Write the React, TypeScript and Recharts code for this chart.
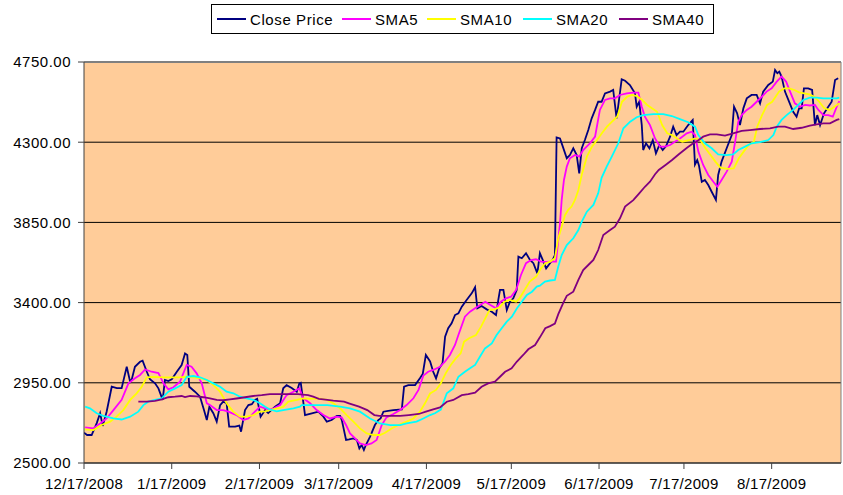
import React from 'react'
import {
  LineChart, Line, XAxis, YAxis, CartesianGrid, ReferenceLine,
} from 'recharts'

// x = days after 12/17/2008, y = index level
const CLOSE: [number, number][] = [
  [0, 2670], [1.1, 2657], [2.7, 2657], [4.5, 2724], [5.7, 2780], [6.6, 2708], [8.0, 2788], [9.8, 2928],
  [11.6, 2920], [13.3, 2920], [15.1, 3040], [16.3, 2956], [16.9, 2970], [18.0, 3040], [19.8, 3068], [20.7, 3074],
  [22.2, 3012], [23.3, 2970], [25.1, 2947], [26.3, 2919], [27.8, 2854], [28.6, 2966], [29.8, 2960], [31.0, 2970],
  [32.8, 3012], [34.5, 3050], [35.7, 3115], [36.5, 3106], [37.2, 2928], [39.2, 2900], [41.0, 2872], [42.4, 2797],
  [43.4, 2741], [44.3, 2816], [45.7, 2779], [46.9, 2732], [48.1, 2825], [49.2, 2844], [50.4, 2835], [51.3, 2704],
  [53.4, 2704], [54.9, 2710], [55.5, 2676], [56.9, 2797], [58.1, 2825], [59.3, 2830], [60.4, 2854], [61.2, 2860],
  [62.4, 2760], [64.0, 2797], [65.1, 2780], [67.5, 2816], [69.3, 2835], [70.4, 2919], [71.6, 2937], [73.4, 2921],
  [75.2, 2900], [76.1, 2947], [76.6, 2950], [78.1, 2769], [80.5, 2779], [82.8, 2788], [84.6, 2760], [85.8, 2732],
  [87.5, 2741], [89.3, 2764], [90.5, 2764], [91.1, 2741], [91.6, 2704], [92.6, 2629], [93.7, 2632], [95.2, 2638],
  [96.4, 2630], [97.3, 2582], [98.1, 2601], [98.9, 2573], [99.6, 2601], [101.1, 2648], [102.8, 2713], [104.0, 2741],
  [104.8, 2750], [105.8, 2788], [107.5, 2793], [109.3, 2797], [112.3, 2801], [113.1, 2928], [114.6, 2937], [117.0, 2937],
  [118.7, 2975], [119.7, 3000], [120.8, 3106], [122.3, 3070], [123.4, 3012], [124.4, 2975], [125.5, 3030], [126.7, 3060],
  [127.6, 3209], [128.7, 3256], [129.9, 3284], [131.1, 3330], [132.3, 3340], [133.5, 3377], [135.2, 3415], [137.0, 3452],
  [138.2, 3486], [139.0, 3368], [140.5, 3381], [142.3, 3362], [144.1, 3349], [145.6, 3330], [146.4, 3415], [147.0, 3471],
  [148.2, 3471], [149.4, 3358], [150.5, 3405], [151.7, 3424], [152.9, 3471], [153.5, 3658], [154.7, 3649], [156.2, 3677],
  [157.6, 3639], [158.8, 3621], [160.2, 3564], [161.1, 3677], [162.1, 3640], [163.3, 3592], [164.4, 3615], [165.6, 3640],
  [166.4, 3667], [167.0, 4327], [168.2, 4321], [169.2, 4275], [170.6, 4210], [171.7, 4228], [172.9, 4266], [174.1, 4228],
  [175.0, 4125], [175.9, 4266], [177.0, 4312], [178.2, 4368], [179.4, 4434], [180.6, 4481], [181.7, 4527], [182.9, 4527],
  [184.1, 4574], [185.9, 4584], [187.0, 4593], [188.2, 4434], [189.2, 4555], [190.0, 4653], [191.2, 4645], [192.9, 4621],
  [194.7, 4574], [195.3, 4499], [196.2, 4527], [197.1, 4396], [197.6, 4256], [198.6, 4294], [199.8, 4266], [201.0, 4312],
  [202.1, 4238], [203.3, 4284], [204.5, 4256], [205.7, 4278], [207.1, 4331], [208.2, 4387], [209.4, 4340], [210.6, 4359],
  [211.8, 4359], [213.5, 4396], [215.1, 4425], [215.9, 4175], [216.7, 4200], [217.3, 4170], [218.3, 4078], [219.4, 4088],
  [220.6, 4060], [221.8, 4022], [223.3, 3976], [224.1, 4116], [225.3, 4191], [227.1, 4266], [228.9, 4340], [229.7, 4499],
  [230.8, 4462], [231.8, 4396], [233.0, 4490], [234.2, 4546], [235.9, 4565], [237.7, 4565], [238.9, 4518], [240.0, 4584],
  [241.8, 4621], [243.4, 4640], [244.2, 4705], [245.0, 4687], [245.7, 4696], [246.5, 4668], [247.7, 4584], [248.9, 4537],
  [250.6, 4471], [251.8, 4443], [252.7, 4490], [253.6, 4490], [254.4, 4602], [255.9, 4602], [257.3, 4593], [258.3, 4396],
  [259.1, 4452], [260.1, 4396], [261.5, 4462], [263.0, 4499], [264.2, 4527], [265.4, 4649], [266.5, 4659],
]

const SMA5: [number, number][] = [
  [0.4, 2700], [3.2, 2694], [5.7, 2722], [8.0, 2750], [10.4, 2797], [13.3, 2854], [15.7, 2947], [18.0, 2975],
  [19.8, 2994], [21.6, 3025], [23.9, 3012], [26.3, 3005], [28.1, 2947], [29.8, 2913], [31.6, 2925], [33.9, 2956],
  [36.3, 3050], [38.0, 3040], [39.8, 3003], [41.6, 2947], [43.4, 2835], [44.5, 2825], [46.9, 2797], [49.2, 2797],
  [51.0, 2788], [53.9, 2769], [56.3, 2741], [58.1, 2750], [60.4, 2788], [62.2, 2816], [64.0, 2807], [65.7, 2800],
  [67.1, 2807], [69.3, 2825], [71.6, 2881], [74.0, 2900], [76.1, 2919], [77.5, 2863], [79.9, 2835], [82.2, 2797],
  [84.6, 2769], [86.9, 2750], [89.3, 2760], [91.1, 2755], [92.6, 2713], [94.0, 2666], [95.8, 2638], [97.5, 2610],
  [99.6, 2601], [101.6, 2610], [103.4, 2629], [105.2, 2713], [106.9, 2756], [109.3, 2775], [111.7, 2797], [114.0, 2825],
  [116.4, 2863], [118.2, 2910], [119.9, 2990], [121.6, 3012], [123.4, 3022], [125.8, 3040], [127.5, 3068], [129.3, 3106],
  [131.1, 3162], [132.3, 3218], [134.6, 3321], [136.4, 3349], [138.2, 3368], [140.0, 3387], [141.8, 3405], [143.6, 3387],
  [145.6, 3368], [147.3, 3405], [149.1, 3424], [150.9, 3433], [152.7, 3471], [154.4, 3555], [156.2, 3621], [158.0, 3639],
  [159.7, 3643], [161.5, 3630], [163.3, 3628], [165.0, 3630], [166.8, 3630], [168.2, 3845], [168.8, 3976], [169.6, 4088],
  [170.6, 4163], [171.7, 4210], [173.5, 4228], [175.0, 4219], [176.4, 4256], [178.8, 4294], [180.6, 4331], [182.3, 4481],
  [184.1, 4537], [185.9, 4546], [187.6, 4546], [189.4, 4565], [191.8, 4574], [194.1, 4578], [195.9, 4578], [197.1, 4499],
  [198.2, 4443], [200.0, 4396], [201.8, 4321], [203.5, 4275], [205.3, 4275], [207.1, 4284], [208.8, 4303], [210.6, 4321],
  [213.0, 4350], [214.7, 4359], [215.9, 4340], [217.1, 4247], [218.8, 4172], [220.6, 4116], [222.4, 4078], [223.8, 4050],
  [225.3, 4088], [227.1, 4135], [228.9, 4191], [230.1, 4303], [231.2, 4415], [232.4, 4452], [234.2, 4481], [235.9, 4499],
  [237.7, 4527], [239.5, 4555], [241.2, 4584], [243.0, 4602], [244.8, 4640], [246.5, 4668], [248.1, 4640], [249.5, 4584],
  [251.2, 4518], [253.0, 4499], [254.8, 4509], [256.5, 4506], [258.3, 4509], [259.5, 4481], [261.3, 4452], [263.0, 4452],
  [264.6, 4443], [266.0, 4499], [266.9, 4530],
]

const SMA10: [number, number][] = [
  [0.4, 2689], [3.3, 2685], [6.2, 2713], [9.2, 2732], [11.5, 2760], [13.9, 2797], [16.3, 2854], [18.6, 2891],
  [20.4, 2928], [22.2, 2981], [24.5, 2983], [28.1, 2981], [31.5, 2981], [33.9, 2981], [36.3, 2984], [38.6, 2981],
  [41.0, 2975], [43.4, 2966], [45.7, 2937], [48.1, 2900], [50.4, 2835], [52.7, 2788], [55.1, 2760], [57.5, 2760],
  [59.8, 2769], [62.2, 2788], [64.0, 2790], [68.1, 2807], [70.4, 2815], [72.2, 2844], [75.2, 2854], [77.5, 2863],
  [79.9, 2860], [82.8, 2863], [85.8, 2854], [88.1, 2835], [90.5, 2807], [92.8, 2769], [95.2, 2732], [97.5, 2694],
  [99.9, 2666], [102.2, 2657], [104.6, 2657], [106.4, 2670], [108.7, 2694], [111.1, 2713], [114.0, 2732], [116.4, 2750],
  [118.7, 2788], [120.5, 2835], [122.3, 2890], [124.4, 2910], [126.1, 2947], [127.8, 3003], [129.6, 3050], [131.4, 3087],
  [133.1, 3115], [134.3, 3181], [136.1, 3200], [138.5, 3218], [140.3, 3265], [142.1, 3321], [143.3, 3358], [145.0, 3362],
  [146.8, 3373], [148.6, 3405], [150.4, 3415], [152.7, 3405], [153.9, 3424], [155.7, 3471], [157.5, 3518], [159.8, 3546],
  [161.1, 3583], [163.0, 3621], [164.7, 3630], [166.4, 3649], [167.6, 3761], [168.8, 3826], [170.0, 3892], [171.1, 3920],
  [172.3, 3939], [173.5, 3976], [174.7, 4032], [176.0, 4125], [177.7, 4219], [179.5, 4275], [181.3, 4312], [183.0, 4350],
  [184.8, 4387], [186.6, 4415], [188.4, 4443], [189.2, 4481], [190.1, 4527], [191.9, 4555], [193.6, 4565], [195.4, 4559],
  [197.2, 4537], [199.0, 4509], [200.7, 4490], [202.5, 4471], [204.3, 4396], [206.1, 4350], [207.8, 4340], [209.6, 4321],
  [211.4, 4303], [213.8, 4312], [216.1, 4321], [217.8, 4312], [219.6, 4266], [221.4, 4228], [223.1, 4191], [224.9, 4157],
  [227.3, 4150], [229.6, 4153], [231.4, 4210], [233.1, 4247], [234.9, 4284], [236.7, 4303], [237.9, 4387], [239.6, 4452],
  [241.4, 4509], [243.2, 4527], [245.6, 4584], [247.4, 4602], [249.2, 4602], [251.0, 4593], [252.7, 4580], [254.5, 4574],
  [256.3, 4568], [258.1, 4555], [259.8, 4527], [261.6, 4490], [263.4, 4481], [265.2, 4499], [266.9, 4518],
]

const SMA20: [number, number][] = [
  [0.4, 2816], [2.1, 2807], [4.5, 2779], [6.8, 2764], [10.4, 2750], [13.3, 2744], [16.3, 2760], [19.2, 2788],
  [21.0, 2825], [22.7, 2844], [25.1, 2854], [27.5, 2863], [29.8, 2900], [32.2, 2919], [34.5, 2937], [36.3, 2984],
  [38.6, 2988], [41.0, 2981], [43.4, 2966], [45.7, 2947], [48.1, 2928], [50.4, 2900], [52.8, 2891], [55.1, 2872],
  [57.5, 2863], [59.8, 2854], [62.2, 2835], [64.0, 2816], [65.7, 2800], [68.1, 2790], [70.4, 2797], [74.0, 2807],
  [76.3, 2816], [76.9, 2825], [80.1, 2825], [86.0, 2825], [90.5, 2816], [94.0, 2807], [97.5, 2788], [101.1, 2750],
  [104.6, 2722], [108.2, 2713], [111.7, 2713], [114.0, 2722], [117.5, 2732], [119.9, 2750], [122.3, 2769], [124.0, 2779],
  [126.1, 2800], [128.2, 2891], [130.5, 2919], [132.3, 2984], [134.6, 3012], [136.4, 3031], [138.2, 3050], [139.9, 3096],
  [141.7, 3143], [144.1, 3171], [145.8, 3218], [147.6, 3256], [149.4, 3293], [151.2, 3321], [153.0, 3368], [154.7, 3405],
  [156.5, 3443], [158.3, 3461], [160.0, 3490], [161.1, 3495], [162.9, 3518], [164.7, 3524], [166.4, 3527], [167.6, 3602],
  [168.8, 3667], [170.6, 3723], [172.9, 3761], [174.7, 3807], [175.9, 3854], [177.7, 3910], [180.0, 3948], [181.7, 4013],
  [182.9, 4100], [184.7, 4163], [186.5, 4219], [188.8, 4294], [190.6, 4378], [193.0, 4415], [195.3, 4440], [197.6, 4452],
  [201.2, 4458], [204.7, 4458], [207.7, 4447], [210.6, 4430], [213.5, 4412], [215.9, 4387], [217.1, 4340], [219.4, 4294],
  [221.8, 4266], [224.1, 4232], [227.1, 4228], [229.4, 4232], [231.2, 4256], [233.6, 4275], [235.9, 4294], [238.9, 4300],
  [241.8, 4312], [243.6, 4340], [244.8, 4387], [246.5, 4425], [248.3, 4452], [250.6, 4481], [252.4, 4509], [254.2, 4537],
  [256.5, 4550], [258.9, 4550], [261.2, 4546], [263.6, 4546], [266.0, 4546], [266.9, 4550],
]

const SMA40: [number, number][] = [
  [19.2, 2844], [22.2, 2844], [25.1, 2848], [27.5, 2857], [29.8, 2869], [32.2, 2872], [34.5, 2876], [35.7, 2870],
  [37.5, 2876], [39.8, 2874], [42.2, 2869], [44.5, 2863], [46.9, 2854], [49.2, 2852], [51.6, 2857], [53.9, 2862],
  [56.9, 2869], [59.8, 2876], [62.8, 2881], [65.7, 2887], [70.4, 2887], [75.6, 2887], [79.2, 2881], [81.0, 2872],
  [83.0, 2860], [84.6, 2857], [88.1, 2850], [91.9, 2844], [93.6, 2835], [97.2, 2816], [100.1, 2797], [102.6, 2769],
  [104.3, 2764], [108.2, 2764], [111.7, 2764], [114.8, 2769], [118.3, 2775], [120.8, 2788], [123.4, 2801], [125.8, 2812],
  [128.2, 2844], [130.5, 2854], [133.5, 2881], [135.8, 2887], [138.2, 2895], [140.5, 2928], [142.8, 2947], [145.2, 2956],
  [147.0, 2984], [148.8, 3012], [151.1, 3031], [152.9, 3068], [155.2, 3106], [157.0, 3138], [159.4, 3162], [161.1, 3205],
  [163.0, 3256], [164.7, 3268], [166.4, 3282], [167.6, 3335], [169.4, 3400], [170.6, 3438], [172.9, 3461], [174.7, 3527],
  [176.4, 3583], [178.2, 3611], [180.0, 3639], [181.7, 3695], [183.5, 3779], [185.9, 3807], [187.6, 3826], [189.4, 3873],
  [191.2, 3939], [194.1, 3975], [196.2, 4013], [198.2, 4050], [200.0, 4078], [201.8, 4120], [203.1, 4144], [205.5, 4172],
  [207.8, 4200], [210.2, 4232], [213.2, 4270], [214.9, 4290], [216.4, 4303], [218.8, 4331], [221.2, 4344], [223.6, 4344],
  [226.5, 4337], [229.4, 4350], [232.4, 4363], [235.3, 4368], [238.9, 4374], [242.4, 4378], [245.3, 4387], [247.7, 4387],
  [250.6, 4374], [253.6, 4381], [256.5, 4393], [258.9, 4400], [261.2, 4406], [263.6, 4406], [266.0, 4425], [266.9, 4430],
]

const DATE_LABELS = [
  '12/17/2008', '1/17/2009', '2/17/2009', '3/17/2009', '4/17/2009',
  '5/17/2009', '6/17/2009', '7/17/2009', '8/17/2009',
]
const Y_TICKS = [2500, 2950, 3400, 3850, 4300, 4750]
const X_MAX = 267.5

const SERIES = [
  { name: 'Close Price', color: '#000080', pts: CLOSE },
  { name: 'SMA5', color: '#FF00FF', pts: SMA5 },
  { name: 'SMA10', color: '#FFFF00', pts: SMA10 },
  { name: 'SMA20', color: '#00FFFF', pts: SMA20 },
  { name: 'SMA40', color: '#800080', pts: SMA40 },
]
// left edge of each legend entry inside the page
const LEGEND_X = [217, 342, 427, 523, 619]

const FONT = '"Liberation Sans", Arial, sans-serif'

const dayOf = (s: string) => {
  const [m, d, y] = s.split('/').map(Number)
  return (Date.UTC(y, m - 1, d) - Date.UTC(2008, 11, 17)) / 864e5
}
const X_TICKS = DATE_LABELS.map(dayOf)
const labelOf = (d: number) => DATE_LABELS[X_TICKS.indexOf(d)] ?? ''

function LegendBox() {
  return (
    <div style={{
      position: 'absolute', left: 211, top: 4, width: 503, height: 30,
      border: '1px solid #000', background: '#fff', boxSizing: 'border-box',
      fontFamily: FONT, fontSize: 15, color: '#000', letterSpacing: 0.6,
    }}>
      {SERIES.map((s, i) => (
        <div key={s.name} style={{
          position: 'absolute', left: LEGEND_X[i] - 212, top: 0, height: 28,
          display: 'flex', alignItems: 'center', whiteSpace: 'nowrap',
        }}>
          <div style={{ width: 29, height: 2, background: s.color, marginRight: 4 }} />
          <span>{s.name}</span>
        </div>
      ))}
    </div>
  )
}

export default function App() {
  return (
    <div style={{ position: 'absolute', left: 0, top: 0, width: 843, height: 495, background: '#fff' }}>
      <LineChart width={843} height={495} margin={{ top: 62, right: 2, bottom: 0, left: 0 }}>
        <CartesianGrid vertical={false} stroke="#000" fill="#FFCC99" fillOpacity={1} />
        <XAxis
          type="number" dataKey="d" domain={[0, X_MAX]} ticks={X_TICKS}
          tickFormatter={labelOf} height={32} tickSize={6} tickMargin={9}
          stroke="#404040"
          tick={{ fill: '#000', fontSize: 15, fontFamily: FONT, letterSpacing: 0.3 }}
          allowDataOverflow
        />
        <YAxis
          type="number" domain={[2500, 4750]} ticks={Y_TICKS} width={84}
          tickFormatter={(v: number) => v.toFixed(2)} tickSize={6} tickMargin={7}
          stroke="#404040"
          tick={{ fill: '#000', fontSize: 15, fontFamily: FONT, letterSpacing: 0.5 }}
          allowDataOverflow
        />
        <ReferenceLine y={4750} stroke="#808080" strokeWidth={2} />
        <ReferenceLine x={X_MAX} stroke="#808080" strokeWidth={1} />
        {SERIES.map(s => (
          <Line
            key={s.name}
            data={s.pts.map(([d, v]) => ({ d, v }))}
            dataKey="v"
            name={s.name}
            type="linear"
            stroke={s.color}
            strokeWidth={1.8}
            dot={false}
            activeDot={false}
            isAnimationActive={false}
          />
        ))}
      </LineChart>
      <LegendBox />
    </div>
  )
}
